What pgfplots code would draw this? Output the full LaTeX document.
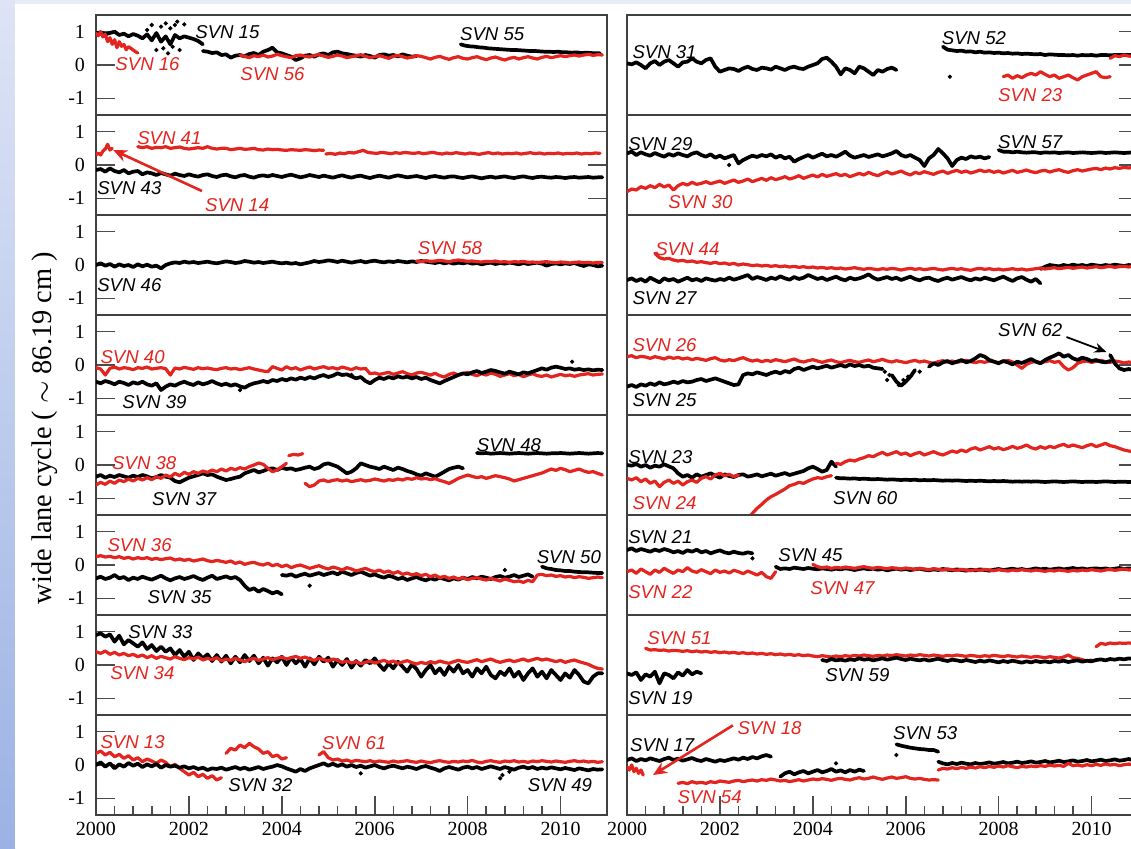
\documentclass[border=0pt]{standalone}
\usepackage{pgfplots}
\pgfplotsset{compat=1.18}
\usetikzlibrary{arrows.meta}
\usepackage{fontspec}
\setmainfont{Liberation Serif}
\newfontfamily\svnfont{Liberation Sans}
\definecolor{rd}{RGB}{228,36,30}
\definecolor{stripT}{RGB}{222,228,246}
\definecolor{stripB}{RGB}{155,178,228}
\definecolor{topband}{RGB}{232,236,248}
\pgfplotsset{
  ts/.style 2 args={/pgfplots/table/header=false,/pgfplots/table/row sep=\\,/pgfplots/table/y index=0,/pgfplots/table/x expr={#1+\coordindex*#2}},
  B/.style={black,line width=1.85pt,line join=round,line cap=round,mark=none},
  R/.style={rd,line width=1.6pt,line join=round,line cap=round,mark=none},
  D/.style={only marks,mark=*,mark size=0.85pt,black},
  panel/.style={scale only axis,width=255.5pt,height=50pt,xmin=2000,xmax=2011,ymin=-1.5,ymax=1.5,
    axis line style={line width=0.9pt,draw=black!75},
    ytick={-1,0,1},yticklabels={-1,0,1},
    tick align=inside,major tick length=9.5pt,minor tick length=4.5pt,
    tick style={line width=0.8pt,black!70},
    xtick=\empty,
    ticklabel style={font=\fontsize{10}{12}\selectfont},
    yticklabel style={xshift=-2pt},
    clip=true},
  lpanel/.style={panel,ytick pos=left},
  rpanel/.style={panel,ytick pos=right,yticklabels={,,}},
  bot/.style={xtick={2000,2002,2004,2006,2008,2010},xticklabels={2000,2002,2004,2006,2008,2010},minor x tick num=4,xtick pos=left},
}
\tikzset{lbl/.style={font=\svnfont\itshape\fontsize{9.3}{10}\selectfont,inner sep=0pt,anchor=west}}
\begin{document}
\begin{tikzpicture}
\path[use as bounding box] (0,0) rectangle (565.5pt,-424pt);
\clip (0,0) rectangle (565.5pt,-424pt);
\fill[topband] (0,0) rectangle (565.5pt,-424pt);
\shade[top color=stripT,bottom color=stripB] (0,0) rectangle (7.5pt,-424pt);
\fill[white] (7.5pt,-2pt) rectangle (565.5pt,-424pt);
\node[rotate=90,font=\fontsize{14.2}{15}\selectfont] at (22.5pt,-214pt) {wide lane cycle ( $\sim$ 86.19 cm )};

% ---------- Row 1 left
\begin{axis}[lpanel,at={(48pt,-7.5pt)},anchor=north west]
\addplot[B] table[ts={2000}{0.1}] {0.95\\0.98\\0.92\\0.96\\1.00\\0.90\\0.94\\0.86\\0.93\\0.88\\0.80\\0.92\\0.74\\0.96\\0.70\\0.86\\0.62\\0.90\\0.80\\0.86\\0.82\\0.78\\0.72\\0.62\\};
\addplot[D] coordinates {(2001.1,1.05)(2001.2,1.2)(2001.4,1.15)(2001.5,1.25)(2001.6,1.1)(2001.7,1.2)(2001.75,1.3)(2001.9,1.22)(2001.3,0.45)(2001.45,0.5)(2001.55,0.35)(2001.65,0.55)(2001.8,0.45)};
\addplot[B] table[ts={2002.3}{0.1}] {0.42\\0.40\\0.36\\0.38\\0.30\\0.32\\0.22\\0.28\\0.30\\0.26\\0.33\\0.36\\0.30\\0.40\\0.45\\0.52\\0.38\\0.35\\0.30\\0.25\\0.15\\0.20\\0.28\\0.30\\0.25\\0.32\\0.35\\0.30\\0.38\\0.40\\0.35\\0.33\\0.30\\0.28\\0.25\\0.30\\0.27\\0.22\\0.30\\0.32\\0.28\\0.30\\0.26\\0.32\\0.28\\0.25\\0.27\\};
\addplot[B] table[ts={2007.85}{0.1}] {0.62\\0.58\\0.56\\0.55\\0.53\\0.52\\0.50\\0.49\\0.48\\0.47\\0.46\\0.45\\0.45\\0.44\\0.43\\0.42\\0.42\\0.41\\0.40\\0.40\\0.39\\0.40\\0.38\\0.38\\0.37\\0.38\\0.36\\0.37\\0.36\\0.35\\0.35\\};
\addplot[R] table[ts={2000}{0.05}] {0.95\\0.88\\1.00\\0.84\\0.92\\0.70\\0.82\\0.62\\0.76\\0.52\\0.70\\0.56\\0.62\\0.46\\0.55\\0.50\\0.45\\0.40\\0.36\\};
\addplot[R] table[ts={2003.1}{0.1}] {0.30\\0.26\\0.22\\0.28\\0.25\\0.30\\0.24\\0.27\\0.32\\0.28\\0.25\\0.22\\0.28\\0.30\\0.26\\0.24\\0.29\\0.31\\0.27\\0.23\\0.26\\0.30\\0.27\\0.22\\0.25\\0.28\\0.31\\0.26\\0.22\\0.25\\0.28\\0.24\\0.20\\0.26\\0.29\\0.25\\0.21\\0.24\\0.28\\0.26\\0.22\\0.18\\0.23\\0.26\\0.21\\0.17\\0.22\\0.25\\0.20\\0.18\\0.22\\0.25\\0.20\\0.16\\0.21\\0.24\\0.19\\0.15\\0.20\\0.23\\0.18\\0.22\\0.25\\0.21\\0.18\\0.23\\0.26\\0.22\\0.25\\0.28\\0.25\\0.28\\0.30\\0.27\\0.30\\0.32\\0.29\\0.31\\0.30\\};
\node[lbl] at (axis cs:2002.13,0.98) {SVN 15};
\node[lbl,rd] at (axis cs:2000.41,0.03) {SVN 16};
\node[lbl,rd] at (axis cs:2003.1,-0.27) {SVN 56};
\node[lbl] at (axis cs:2007.83,0.93) {SVN 55};
\end{axis}

% ---------- Row 1 right
\begin{axis}[rpanel,at={(313.5pt,-7.5pt)},anchor=north west]
\addplot[B] table[ts={2000}{0.1}] {0.05\\0.02\\0.08\\0.00\\-0.10\\0.05\\0.12\\0.00\\0.10\\0.15\\0.05\\-0.05\\0.08\\0.10\\0.20\\0.10\\0.05\\0.15\\0.20\\-0.05\\-0.20\\-0.15\\-0.10\\-0.12\\-0.18\\-0.10\\-0.05\\-0.12\\-0.15\\-0.08\\-0.10\\-0.14\\-0.05\\-0.10\\-0.15\\-0.08\\-0.05\\-0.10\\-0.12\\-0.05\\0.00\\0.05\\0.18\\0.22\\0.10\\-0.05\\-0.28\\-0.10\\-0.15\\-0.25\\-0.05\\-0.10\\-0.20\\-0.30\\-0.15\\-0.20\\-0.12\\-0.08\\-0.15\\};
\addplot[B] table[ts={2006.8}{0.1}] {0.55\\0.46\\0.44\\0.42\\0.43\\0.40\\0.41\\0.38\\0.40\\0.37\\0.38\\0.36\\0.37\\0.35\\0.36\\0.34\\0.35\\0.33\\0.34\\0.33\\0.32\\0.33\\0.30\\0.32\\0.31\\0.30\\0.30\\0.29\\0.30\\0.28\\0.30\\0.29\\0.30\\0.28\\0.30\\0.30\\0.29\\0.30\\0.30\\0.30\\0.30\\0.30\\0.30\\};
\addplot[D] coordinates {(2006.95,-0.35)};
\addplot[R] table[ts={2008.1}{0.1}] {-0.35\\-0.30\\-0.40\\-0.32\\-0.38\\-0.30\\-0.25\\-0.30\\-0.20\\-0.28\\-0.35\\-0.30\\-0.40\\-0.35\\-0.30\\-0.38\\-0.45\\-0.35\\-0.30\\-0.25\\-0.20\\-0.35\\-0.38\\-0.35\\};
\addplot[R] table[ts={2010.4}{0.1}] {0.20\\0.28\\0.25\\0.30\\0.27\\0.25\\0.30\\};
\node[lbl] at (axis cs:2000.11,0.39) {SVN 31};
\node[lbl] at (axis cs:2006.77,0.8) {SVN 52};
\node[lbl,rd] at (axis cs:2007.98,-0.9) {SVN 23};
\end{axis}

% ---------- Row 2 left
\begin{axis}[panel,ytick pos=both,yticklabel pos=left,at={(48pt,-57.5pt)},anchor=north west]
\addplot[B] table[ts={2000}{0.1}] {-0.15\\-0.12\\-0.20\\-0.10\\-0.18\\-0.22\\-0.15\\-0.25\\-0.20\\-0.18\\-0.28\\-0.22\\-0.25\\-0.30\\-0.24\\-0.28\\-0.32\\-0.26\\-0.30\\-0.33\\-0.28\\-0.32\\-0.35\\-0.30\\-0.28\\-0.33\\-0.36\\-0.31\\-0.29\\-0.34\\-0.37\\-0.32\\-0.30\\-0.35\\-0.38\\-0.33\\-0.31\\-0.34\\-0.30\\-0.33\\-0.36\\-0.32\\-0.29\\-0.33\\-0.37\\-0.34\\-0.30\\-0.33\\-0.36\\-0.32\\-0.35\\-0.38\\-0.34\\-0.31\\-0.35\\-0.38\\-0.34\\-0.32\\-0.36\\-0.39\\-0.35\\-0.32\\-0.35\\-0.38\\-0.34\\-0.31\\-0.34\\-0.37\\-0.35\\-0.33\\-0.36\\-0.39\\-0.35\\-0.33\\-0.36\\-0.38\\-0.35\\-0.34\\-0.37\\-0.39\\-0.36\\-0.34\\-0.37\\-0.40\\-0.37\\-0.35\\-0.38\\-0.36\\-0.34\\-0.37\\-0.39\\-0.36\\-0.34\\-0.37\\-0.39\\-0.36\\-0.35\\-0.37\\-0.38\\-0.36\\-0.37\\-0.39\\-0.37\\-0.36\\-0.38\\-0.37\\-0.36\\-0.38\\-0.37\\-0.37\\};
\addplot[R] table[ts={2000}{0.05}] {0.30\\0.36\\0.30\\0.42\\0.48\\0.62\\0.45\\0.50\\};
\addplot[R] table[ts={2000.9}{0.1}] {0.55\\0.52\\0.55\\0.50\\0.53\\0.52\\0.55\\0.50\\0.52\\0.54\\0.50\\0.48\\0.50\\0.52\\0.50\\0.55\\0.50\\0.48\\0.50\\0.50\\0.46\\0.48\\0.50\\0.47\\0.48\\0.50\\0.46\\0.45\\0.48\\0.46\\0.47\\0.45\\0.44\\0.46\\0.45\\0.44\\0.46\\0.45\\0.43\\0.45\\0.44\\};
\addplot[R] table[ts={2004.95}{0.1}] {0.33\\0.35\\0.32\\0.36\\0.34\\0.38\\0.36\\0.40\\0.44\\0.38\\0.36\\0.35\\0.38\\0.36\\0.34\\0.37\\0.35\\0.38\\0.36\\0.35\\0.37\\0.34\\0.36\\0.38\\0.35\\0.33\\0.36\\0.34\\0.37\\0.35\\0.33\\0.36\\0.34\\0.32\\0.35\\0.37\\0.34\\0.36\\0.33\\0.35\\0.34\\0.36\\0.33\\0.35\\0.37\\0.34\\0.36\\0.33\\0.35\\0.34\\0.36\\0.33\\0.35\\0.34\\0.36\\0.33\\0.35\\0.34\\0.36\\0.35\\};
\node[lbl,rd] at (axis cs:2000.88,0.81) {SVN 41};
\node[lbl] at (axis cs:2000.02,-0.69) {SVN 43};
\node[lbl,rd] at (axis cs:2002.34,-1.19) {SVN 14};
\draw[rd,line width=1.3pt,-{Stealth[length=7pt,width=6pt]}] (axis cs:2002.28,-0.78) -- (axis cs:2000.37,0.45);
\end{axis}

% ---------- Row 2 right
\begin{axis}[rpanel,at={(313.5pt,-57.5pt)},anchor=north west]
\addplot[B] table[ts={2000}{0.1}] {0.35\\0.40\\0.30\\0.38\\0.32\\0.28\\0.36\\0.30\\0.25\\0.33\\0.28\\0.35\\0.30\\0.26\\0.34\\0.38\\0.30\\0.25\\0.32\\0.22\\0.28\\0.20\\0.25\\0.30\\0.05\\0.15\\0.22\\0.28\\0.24\\0.30\\0.26\\0.32\\0.22\\0.28\\0.20\\0.25\\0.10\\0.18\\0.24\\0.30\\0.22\\0.28\\0.34\\0.26\\0.30\\0.25\\0.32\\0.40\\0.28\\0.22\\0.26\\0.30\\0.24\\0.28\\0.32\\0.26\\0.30\\0.35\\0.42\\0.30\\0.25\\0.30\\0.22\\0.15\\-0.03\\0.20\\0.30\\0.48\\0.35\\0.20\\-0.03\\0.15\\0.22\\0.18\\0.26\\0.22\\0.25\\0.20\\0.24\\};
\addplot[D] coordinates {(2002.2,0.0)};
\addplot[B] table[ts={2008.0}{0.1}] {0.45\\0.40\\0.40\\0.38\\0.40\\0.38\\0.37\\0.38\\0.38\\0.36\\0.38\\0.37\\0.38\\0.36\\0.37\\0.38\\0.36\\0.37\\0.38\\0.37\\0.36\\0.37\\0.38\\0.36\\0.37\\0.38\\0.37\\0.36\\0.37\\0.38\\0.37\\};
\addplot[R] table[ts={2000}{0.1}] {-0.80\\-0.72\\-0.75\\-0.65\\-0.70\\-0.62\\-0.68\\-0.58\\-0.66\\-0.60\\-0.75\\-0.62\\-0.55\\-0.60\\-0.52\\-0.58\\-0.55\\-0.50\\-0.56\\-0.52\\-0.48\\-0.55\\-0.50\\-0.45\\-0.52\\-0.48\\-0.42\\-0.50\\-0.45\\-0.40\\-0.46\\-0.38\\-0.44\\-0.40\\-0.35\\-0.42\\-0.38\\-0.32\\-0.40\\-0.35\\-0.30\\-0.36\\-0.28\\-0.34\\-0.30\\-0.26\\-0.32\\-0.28\\-0.35\\-0.30\\-0.25\\-0.30\\-0.22\\-0.28\\-0.32\\-0.25\\-0.20\\-0.27\\-0.23\\-0.18\\-0.25\\-0.30\\-0.22\\-0.26\\-0.20\\-0.24\\-0.28\\-0.22\\-0.18\\-0.25\\-0.20\\-0.16\\-0.22\\-0.18\\-0.24\\-0.20\\-0.15\\-0.20\\-0.17\\-0.22\\-0.18\\-0.24\\-0.20\\-0.16\\-0.22\\-0.19\\-0.15\\-0.20\\-0.23\\-0.18\\-0.16\\-0.21\\-0.17\\-0.14\\-0.19\\-0.22\\-0.17\\-0.14\\-0.18\\-0.15\\-0.12\\-0.10\\-0.14\\-0.09\\-0.12\\-0.08\\-0.10\\-0.07\\-0.09\\-0.06\\-0.06\\};
\node[lbl] at (axis cs:2000.02,0.63) {SVN 29};
\node[lbl] at (axis cs:2007.98,0.69) {SVN 57};
\node[lbl,rd] at (axis cs:2000.88,-1.1) {SVN 30};
\end{axis}

% ---------- Row 3 left
\begin{axis}[lpanel,at={(48pt,-107.5pt)},anchor=north west]
\addplot[B] table[ts={2000}{0.1}] {0.00\\0.05\\-0.02\\0.03\\-0.05\\0.02\\-0.03\\0.00\\-0.06\\0.02\\-0.04\\0.01\\-0.05\\-0.02\\-0.10\\0.00\\0.05\\0.08\\0.06\\0.10\\0.07\\0.09\\0.06\\0.08\\0.10\\0.07\\0.05\\0.08\\0.11\\0.09\\0.06\\0.08\\0.12\\0.10\\0.07\\0.09\\0.06\\0.08\\0.10\\0.07\\0.05\\0.07\\0.04\\0.06\\0.02\\0.05\\0.08\\0.12\\0.09\\0.11\\0.14\\0.12\\0.09\\0.13\\0.10\\0.07\\0.10\\0.12\\0.08\\0.11\\0.13\\0.10\\0.08\\0.11\\0.09\\0.12\\0.10\\0.08\\0.11\\0.09\\0.12\\0.10\\0.08\\0.06\\0.09\\0.05\\0.08\\0.04\\0.07\\0.05\\0.08\\0.04\\0.06\\0.02\\0.05\\0.07\\0.03\\0.06\\0.04\\0.07\\0.05\\0.02\\0.06\\0.03\\0.05\\0.07\\0.04\\-0.02\\0.03\\0.05\\0.02\\0.05\\0.03\\0.06\\0.01\\-0.03\\0.02\\0.00\\-0.04\\-0.02\\};
\addplot[R] table[ts={2006.9}{0.1}] {0.12\\0.10\\0.13\\0.11\\0.12\\0.14\\0.12\\0.10\\0.13\\0.15\\0.13\\0.11\\0.12\\0.10\\0.09\\0.11\\0.10\\0.12\\0.09\\0.10\\0.08\\0.10\\0.09\\0.11\\0.08\\0.09\\0.07\\0.09\\0.10\\0.08\\0.07\\0.09\\0.08\\0.06\\0.08\\0.09\\0.07\\0.08\\0.06\\0.08\\0.07\\};
\node[lbl] at (axis cs:2000.02,-0.6) {SVN 46};
\node[lbl,rd] at (axis cs:2006.92,0.5) {SVN 58};
\end{axis}

% ---------- Row 3 right
\begin{axis}[rpanel,at={(313.5pt,-107.5pt)},anchor=north west]
\addplot[B] table[ts={2000}{0.1}] {-0.45\\-0.40\\-0.48\\-0.42\\-0.50\\-0.38\\-0.45\\-0.52\\-0.40\\-0.46\\-0.42\\-0.50\\-0.44\\-0.38\\-0.46\\-0.42\\-0.48\\-0.40\\-0.44\\-0.47\\-0.42\\-0.45\\-0.38\\-0.44\\-0.40\\-0.35\\-0.30\\-0.42\\-0.36\\-0.40\\-0.45\\-0.38\\-0.42\\-0.34\\-0.40\\-0.44\\-0.36\\-0.42\\-0.38\\-0.30\\-0.36\\-0.42\\-0.38\\-0.45\\-0.40\\-0.35\\-0.42\\-0.46\\-0.38\\-0.43\\-0.40\\-0.35\\-0.28\\-0.38\\-0.44\\-0.40\\-0.36\\-0.42\\-0.38\\-0.45\\-0.40\\-0.35\\-0.42\\-0.46\\-0.40\\-0.38\\-0.44\\-0.48\\-0.42\\-0.38\\-0.44\\-0.40\\-0.36\\-0.42\\-0.46\\-0.40\\-0.44\\-0.38\\-0.42\\-0.46\\-0.40\\-0.35\\-0.42\\-0.48\\-0.40\\-0.36\\-0.44\\-0.50\\-0.42\\-0.55\\};
\addplot[B] table[ts={2008.9}{0.1}] {-0.12\\-0.05\\0.00\\-0.02\\-0.04\\0.00\\-0.03\\0.01\\-0.02\\0.00\\-0.03\\0.01\\-0.01\\-0.03\\0.00\\-0.02\\0.01\\-0.01\\-0.03\\0.00\\-0.02\\-0.01\\};
\addplot[R] table[ts={2000.6}{0.1}] {0.35\\0.22\\0.18\\0.20\\0.15\\0.12\\0.14\\0.10\\0.12\\0.08\\0.10\\0.07\\0.05\\0.08\\0.04\\0.06\\0.02\\0.05\\0.00\\0.03\\0.01\\-0.02\\0.00\\-0.03\\-0.01\\-0.04\\-0.02\\-0.05\\-0.03\\-0.06\\-0.04\\-0.07\\-0.05\\-0.08\\-0.06\\-0.09\\-0.07\\-0.10\\-0.08\\-0.11\\-0.09\\-0.12\\-0.10\\-0.08\\-0.11\\-0.13\\-0.10\\-0.12\\-0.14\\-0.11\\-0.13\\-0.10\\-0.12\\-0.15\\-0.12\\-0.10\\-0.13\\-0.11\\-0.14\\-0.12\\-0.10\\-0.13\\-0.15\\-0.12\\-0.10\\-0.13\\-0.11\\-0.14\\-0.16\\-0.12\\-0.10\\-0.13\\-0.11\\-0.14\\-0.12\\-0.15\\-0.13\\-0.11\\-0.14\\-0.12\\-0.15\\-0.13\\-0.11\\-0.09\\-0.12\\-0.10\\-0.08\\-0.11\\-0.09\\-0.07\\-0.10\\-0.08\\-0.06\\-0.09\\-0.07\\-0.05\\-0.08\\-0.06\\-0.04\\-0.07\\-0.05\\-0.04\\-0.06\\-0.03\\-0.05\\};
\node[lbl,rd] at (axis cs:2000.6,0.48) {SVN 44};
\node[lbl] at (axis cs:2000.11,-0.99) {SVN 27};
\end{axis}

% ---------- Row 4 left
\begin{axis}[lpanel,at={(48pt,-157.5pt)},anchor=north west]
\addplot[R] table[ts={2000}{0.1}] {-0.08\\-0.12\\-0.30\\-0.10\\-0.06\\-0.12\\-0.08\\-0.10\\-0.14\\-0.08\\-0.10\\-0.06\\-0.12\\-0.10\\-0.08\\-0.11\\-0.30\\-0.09\\-0.12\\-0.07\\-0.10\\-0.13\\-0.08\\-0.11\\-0.09\\-0.12\\-0.14\\-0.10\\-0.08\\-0.12\\-0.10\\-0.14\\-0.11\\-0.08\\-0.12\\-0.15\\-0.18\\-0.20\\-0.05\\-0.10\\-0.15\\-0.05\\-0.12\\-0.08\\-0.15\\-0.10\\-0.06\\-0.12\\-0.08\\-0.05\\-0.10\\-0.08\\-0.12\\-0.06\\-0.10\\-0.14\\-0.08\\-0.12\\-0.10\\-0.26\\-0.24\\-0.28\\-0.25\\-0.22\\-0.28\\-0.24\\-0.20\\-0.26\\-0.30\\-0.24\\-0.22\\-0.26\\-0.30\\-0.25\\-0.32\\-0.36\\-0.28\\-0.24\\-0.30\\-0.26\\-0.22\\-0.28\\-0.32\\-0.26\\-0.30\\-0.24\\-0.28\\-0.34\\-0.30\\-0.26\\-0.32\\-0.28\\-0.35\\-0.30\\-0.26\\-0.32\\-0.34\\-0.30\\-0.36\\-0.32\\-0.28\\-0.32\\-0.30\\-0.34\\-0.30\\-0.28\\-0.26\\-0.30\\-0.28\\-0.27\\};
\addplot[B] table[ts={2000}{0.1}] {-0.50\\-0.55\\-0.48\\-0.52\\-0.58\\-0.50\\-0.54\\-0.60\\-0.52\\-0.56\\-0.50\\-0.58\\-0.62\\-0.55\\-0.75\\-0.65\\-0.58\\-0.62\\-0.55\\-0.50\\-0.56\\-0.60\\-0.52\\-0.58\\-0.54\\-0.48\\-0.55\\-0.60\\-0.56\\-0.62\\-0.58\\-0.64\\-0.68\\-0.60\\-0.55\\-0.52\\-0.48\\-0.52\\-0.45\\-0.48\\-0.42\\-0.46\\-0.40\\-0.44\\-0.38\\-0.42\\-0.36\\-0.40\\-0.34\\-0.30\\-0.36\\-0.32\\-0.25\\-0.30\\-0.28\\-0.34\\-0.40\\-0.36\\-0.48\\-0.55\\-0.45\\-0.38\\-0.42\\-0.36\\-0.40\\-0.34\\-0.38\\-0.35\\-0.40\\-0.36\\-0.42\\-0.38\\-0.45\\-0.50\\-0.55\\-0.48\\-0.42\\-0.36\\-0.30\\-0.25\\-0.28\\-0.22\\-0.18\\-0.24\\-0.20\\-0.15\\-0.18\\-0.22\\-0.26\\-0.20\\-0.24\\-0.28\\-0.22\\-0.25\\-0.20\\-0.15\\-0.10\\-0.14\\-0.08\\-0.05\\-0.08\\-0.12\\-0.10\\-0.14\\-0.12\\-0.15\\-0.13\\-0.16\\-0.14\\-0.15\\};
\addplot[D] coordinates {(2010.25,0.1)(2003.1,-0.75)(2005.5,-0.3)};
\node[lbl,rd] at (axis cs:2000.09,0.24) {SVN 40};
\node[lbl] at (axis cs:2000.56,-1.1) {SVN 39};
\end{axis}

% ---------- Row 4 right
\begin{axis}[rpanel,at={(313.5pt,-157.5pt)},anchor=north west]
\addplot[R] table[ts={2000}{0.1}] {0.25\\0.28\\0.22\\0.26\\0.24\\0.20\\0.25\\0.22\\0.18\\0.24\\0.20\\0.23\\0.18\\0.21\\0.16\\0.20\\0.17\\0.14\\0.19\\0.22\\0.15\\0.12\\0.16\\0.13\\0.18\\0.22\\0.16\\0.12\\0.15\\0.10\\0.14\\0.11\\0.16\\0.13\\0.10\\0.14\\0.18\\0.12\\0.09\\0.13\\0.16\\0.12\\0.08\\0.12\\0.15\\0.10\\0.07\\0.11\\0.14\\0.10\\0.08\\0.12\\0.15\\0.10\\0.13\\0.17\\0.12\\0.09\\0.13\\0.10\\0.07\\0.11\\0.14\\0.09\\0.12\\0.08\\0.05\\0.10\\0.13\\0.09\\0.12\\0.08\\0.11\\0.14\\0.10\\0.07\\0.11\\0.08\\0.12\\0.10\\0.07\\0.11\\0.14\\0.09\\0.00\\-0.10\\0.02\\0.08\\0.11\\0.07\\0.10\\0.13\\0.08\\0.11\\-0.05\\-0.15\\-0.08\\0.05\\0.10\\0.12\\0.08\\0.11\\0.14\\0.10\\0.08\\0.12\\0.10\\0.06\\0.09\\0.07\\0.08\\};
\addplot[B] table[ts={2000}{0.1}] {-0.65\\-0.60\\-0.66\\-0.58\\-0.62\\-0.55\\-0.60\\-0.52\\-0.58\\-0.55\\-0.50\\-0.54\\-0.48\\-0.52\\-0.50\\-0.45\\-0.42\\-0.48\\-0.44\\-0.40\\-0.45\\-0.50\\-0.55\\-0.60\\-0.58\\-0.30\\-0.25\\-0.28\\-0.22\\-0.26\\-0.30\\-0.24\\-0.20\\-0.25\\-0.18\\-0.22\\-0.12\\-0.08\\-0.15\\-0.10\\-0.05\\-0.10\\-0.06\\-0.02\\-0.08\\-0.04\\0.00\\-0.05\\0.02\\-0.03\\0.00\\-0.05\\-0.02\\-0.08\\-0.10\\-0.12\\};
\addplot[B] table[ts={2005.7}{0.1}] {-0.30\\-0.50\\-0.62\\-0.50\\-0.35\\-0.15\\};
\addplot[D] coordinates {(2005.55,-0.2)(2005.6,-0.45)(2005.65,-0.3)(2005.85,-0.6)(2005.95,-0.45)(2006.05,-0.35)(2006.3,-0.2)};
\addplot[B] table[ts={2006.5}{0.1}] {-0.05\\0.05\\0.00\\0.08\\0.12\\0.05\\0.10\\0.15\\0.08\\0.12\\0.20\\0.30\\0.25\\0.15\\0.10\\0.05\\0.12\\0.08\\0.02\\0.10\\0.06\\0.12\\0.18\\0.10\\0.05\\0.15\\0.22\\0.28\\0.35\\0.25\\0.30\\0.20\\0.15\\0.22\\0.18\\0.12\\0.15\\0.10\\0.08\\0.12\\};
\addplot[B] table[ts={2010.4}{0.1}] {0.30\\0.05\\-0.10\\-0.15\\-0.12\\-0.15\\-0.15\\};
\node[lbl,rd] at (axis cs:2000.11,0.6) {SVN 26};
\node[lbl] at (axis cs:2000.11,-1.05) {SVN 25};
\node[lbl] at (axis cs:2007.98,1.04) {SVN 62};
\draw[black,line width=0.9pt,-{Stealth[length=6pt,width=5pt]}] (axis cs:2009.46,0.84) -- (axis cs:2010.32,0.39);
\end{axis}

% ---------- Row 5 left
\begin{axis}[lpanel,at={(48pt,-207.5pt)},anchor=north west]
\addplot[B] table[ts={2000}{0.1}] {-0.35\\-0.30\\-0.38\\-0.32\\-0.36\\-0.30\\-0.34\\-0.38\\-0.32\\-0.36\\-0.30\\-0.34\\-0.40\\-0.36\\-0.30\\-0.35\\-0.38\\-0.48\\-0.52\\-0.45\\-0.38\\-0.34\\-0.30\\-0.25\\-0.30\\-0.28\\-0.35\\-0.40\\-0.45\\-0.42\\-0.38\\-0.35\\-0.25\\-0.20\\-0.15\\-0.22\\-0.18\\-0.12\\-0.10\\-0.15\\-0.08\\-0.12\\-0.10\\-0.15\\-0.12\\-0.08\\-0.05\\-0.12\\-0.08\\0.02\\0.05\\0.00\\-0.05\\-0.15\\-0.25\\-0.20\\-0.10\\0.05\\0.00\\-0.05\\-0.08\\-0.12\\-0.05\\-0.10\\-0.15\\-0.08\\-0.12\\-0.18\\-0.22\\-0.28\\-0.32\\-0.25\\-0.30\\-0.35\\-0.28\\-0.20\\-0.12\\-0.08\\-0.05\\-0.10\\};
\addplot[B] table[ts={2008.2}{0.1}] {0.36\\0.35\\0.36\\0.34\\0.35\\0.36\\0.35\\0.34\\0.35\\0.36\\0.35\\0.34\\0.35\\0.36\\0.35\\0.34\\0.35\\0.35\\0.36\\0.35\\0.34\\0.35\\0.36\\0.35\\0.34\\0.35\\0.36\\0.35\\};
\addplot[R] table[ts={2000}{0.1}] {-0.60\\-0.52\\-0.58\\-0.48\\-0.55\\-0.45\\-0.50\\-0.42\\-0.48\\-0.40\\-0.45\\-0.38\\-0.44\\-0.35\\-0.40\\-0.30\\-0.36\\-0.25\\-0.32\\-0.22\\-0.28\\-0.20\\-0.25\\-0.18\\-0.22\\-0.15\\-0.20\\-0.12\\-0.18\\-0.10\\-0.14\\-0.08\\-0.12\\-0.05\\0.00\\0.06\\0.02\\-0.10\\-0.20\\-0.15\\-0.05\\0.05\\};
\addplot[R] table[ts={2004.15}{0.1}] {0.28\\0.32\\0.30\\0.34\\};
\addplot[R] table[ts={2004.5}{0.1}] {-0.55\\-0.65\\-0.60\\-0.48\\-0.45\\-0.50\\-0.46\\-0.44\\-0.48\\-0.45\\-0.50\\-0.47\\-0.44\\-0.48\\-0.46\\-0.42\\-0.45\\-0.48\\-0.44\\-0.46\\-0.42\\-0.45\\-0.40\\-0.43\\-0.38\\-0.42\\-0.40\\-0.44\\-0.41\\-0.46\\-0.50\\-0.55\\-0.48\\-0.40\\-0.35\\-0.30\\-0.34\\-0.38\\-0.35\\-0.40\\-0.36\\-0.32\\-0.35\\-0.38\\-0.42\\-0.48\\-0.44\\-0.40\\-0.36\\-0.32\\-0.28\\-0.24\\-0.18\\-0.12\\-0.16\\-0.10\\-0.14\\-0.20\\-0.16\\-0.12\\-0.18\\-0.22\\-0.20\\-0.25\\-0.30\\};
\node[lbl,rd] at (axis cs:2000.34,0.06) {SVN 38};
\node[lbl] at (axis cs:2001.2,-1.01) {SVN 37};
\node[lbl] at (axis cs:2008.19,0.6) {SVN 48};
\end{axis}

% ---------- Row 5 right
\begin{axis}[rpanel,at={(313.5pt,-207.5pt)},anchor=north west]
\addplot[B] table[ts={2000}{0.1}] {0.00\\-0.02\\0.03\\-0.05\\0.00\\-0.08\\-0.02\\-0.05\\0.02\\-0.04\\-0.10\\-0.25\\-0.35\\-0.30\\-0.38\\-0.28\\-0.35\\-0.30\\-0.25\\-0.32\\-0.38\\-0.28\\-0.33\\-0.36\\-0.30\\-0.28\\-0.35\\-0.32\\-0.28\\-0.34\\-0.30\\-0.26\\-0.32\\-0.28\\-0.24\\-0.30\\-0.26\\-0.22\\-0.18\\-0.10\\-0.05\\-0.12\\-0.20\\-0.15\\0.10\\-0.05\\};
\addplot[B] table[ts={2004.5}{0.1}] {-0.38\\-0.40\\-0.40\\-0.41\\-0.40\\-0.42\\-0.41\\-0.42\\-0.43\\-0.42\\-0.43\\-0.44\\-0.43\\-0.44\\-0.45\\-0.44\\-0.45\\-0.44\\-0.46\\-0.45\\-0.46\\-0.45\\-0.46\\-0.47\\-0.46\\-0.47\\-0.46\\-0.47\\-0.48\\-0.47\\-0.48\\-0.47\\-0.48\\-0.49\\-0.48\\-0.49\\-0.48\\-0.49\\-0.50\\-0.49\\-0.50\\-0.49\\-0.50\\-0.49\\-0.50\\-0.51\\-0.50\\-0.49\\-0.50\\-0.51\\-0.50\\-0.49\\-0.50\\-0.51\\-0.50\\-0.50\\-0.51\\-0.50\\-0.49\\-0.50\\-0.51\\-0.50\\-0.50\\-0.51\\-0.50\\-0.50\\};
\addplot[R] table[ts={2000}{0.1}] {-0.40\\-0.45\\-0.38\\-0.50\\-0.42\\-0.55\\-0.48\\-0.65\\-0.52\\-0.45\\-0.55\\-0.48\\-0.60\\-0.50\\-0.45\\-0.52\\-0.40\\-0.35\\-0.42\\-0.30\\-0.25\\-0.32\\-0.28\\-0.35\\-0.30\\};
\addplot[R] table[ts={2002.6}{0.1}] {-1.60\\-1.45\\-1.30\\-1.18\\-1.05\\-0.95\\-0.88\\-0.80\\-0.72\\-0.62\\-0.58\\-0.52\\-0.55\\-0.48\\-0.42\\-0.38\\-0.40\\-0.35\\-0.32\\};
\addplot[R] table[ts={2004.5}{0.1}] {0.05\\0.02\\0.10\\0.15\\0.12\\0.18\\0.22\\0.28\\0.25\\0.32\\0.38\\0.30\\0.35\\0.40\\0.32\\0.36\\0.28\\0.34\\0.38\\0.30\\0.35\\0.40\\0.34\\0.30\\0.36\\0.42\\0.38\\0.45\\0.40\\0.48\\0.52\\0.45\\0.50\\0.55\\0.48\\0.52\\0.46\\0.50\\0.56\\0.50\\0.54\\0.60\\0.52\\0.48\\0.55\\0.50\\0.56\\0.52\\0.58\\0.62\\0.55\\0.60\\0.56\\0.52\\0.58\\0.62\\0.55\\0.60\\0.65\\0.58\\0.55\\0.50\\0.45\\0.42\\0.40\\0.40\\};
\node[lbl] at (axis cs:2000.02,0.24) {SVN 23};
\node[lbl,rd] at (axis cs:2000.11,-1.13) {SVN 24};
\node[lbl] at (axis cs:2004.43,-0.99) {SVN 60};
\end{axis}

% ---------- Row 6 left
\begin{axis}[lpanel,at={(48pt,-257.5pt)},anchor=north west]
\addplot[B] table[ts={2000}{0.1}] {-0.40\\-0.35\\-0.42\\-0.38\\-0.30\\-0.40\\-0.36\\-0.45\\-0.38\\-0.42\\-0.35\\-0.40\\-0.44\\-0.38\\-0.32\\-0.40\\-0.46\\-0.40\\-0.36\\-0.42\\-0.38\\-0.33\\-0.40\\-0.45\\-0.38\\-0.32\\-0.42\\-0.38\\-0.34\\-0.40\\-0.36\\-0.45\\-0.62\\-0.75\\-0.70\\-0.80\\-0.72\\-0.78\\-0.85\\-0.80\\-0.88\\};
\addplot[B] table[ts={2004.0}{0.1}] {-0.30\\-0.32\\-0.28\\-0.35\\-0.30\\-0.26\\-0.32\\-0.28\\-0.24\\-0.30\\-0.26\\-0.22\\-0.28\\-0.20\\-0.25\\-0.30\\-0.24\\-0.20\\-0.26\\-0.32\\-0.28\\-0.34\\-0.38\\-0.32\\-0.36\\-0.42\\-0.38\\-0.45\\-0.40\\-0.36\\-0.42\\-0.46\\-0.40\\-0.44\\-0.38\\-0.42\\-0.46\\-0.40\\-0.44\\-0.38\\-0.42\\-0.36\\-0.40\\-0.35\\-0.38\\-0.42\\-0.36\\-0.33\\-0.38\\-0.35\\-0.30\\-0.36\\-0.32\\-0.28\\-0.35\\};
\addplot[B] table[ts={2009.6}{0.1}] {-0.05\\-0.10\\-0.12\\-0.15\\-0.16\\-0.18\\-0.18\\-0.20\\-0.21\\-0.22\\-0.22\\-0.23\\-0.24\\-0.24\\};
\addplot[D] coordinates {(2008.8,-0.15)(2004.6,-0.62)};
\addplot[R] table[ts={2000}{0.1}] {0.25\\0.28\\0.24\\0.26\\0.22\\0.25\\0.20\\0.23\\0.18\\0.22\\0.19\\0.22\\0.17\\0.20\\0.16\\0.19\\0.21\\0.15\\0.18\\0.14\\0.17\\0.12\\0.15\\0.18\\0.13\\0.10\\0.14\\0.11\\0.08\\0.12\\0.05\\0.09\\0.02\\0.06\\0.08\\0.03\\0.00\\0.05\\-0.02\\0.02\\-0.05\\0.00\\-0.08\\-0.03\\0.00\\-0.05\\-0.10\\-0.06\\-0.02\\-0.08\\-0.12\\-0.06\\-0.10\\-0.15\\-0.08\\-0.12\\-0.18\\-0.14\\-0.10\\-0.16\\-0.20\\-0.15\\-0.22\\-0.18\\-0.25\\-0.20\\-0.28\\-0.24\\-0.30\\-0.26\\-0.32\\-0.28\\-0.35\\-0.30\\-0.38\\-0.34\\-0.40\\-0.36\\-0.42\\-0.38\\-0.44\\-0.40\\-0.38\\-0.42\\-0.45\\-0.40\\-0.44\\-0.48\\-0.42\\-0.46\\-0.50\\-0.48\\-0.52\\-0.46\\-0.50\\-0.30\\-0.28\\-0.32\\-0.30\\-0.34\\-0.32\\-0.36\\-0.34\\-0.38\\-0.35\\-0.37\\-0.40\\-0.38\\-0.36\\-0.38\\};
\node[lbl,rd] at (axis cs:2000.24,0.6) {SVN 36};
\node[lbl] at (axis cs:2001.1,-0.96) {SVN 35};
\node[lbl] at (axis cs:2009.48,0.24) {SVN 50};
\end{axis}

% ---------- Row 6 right
\begin{axis}[rpanel,at={(313.5pt,-257.5pt)},anchor=north west]
\addplot[B] table[ts={2000}{0.1}] {0.45\\0.50\\0.42\\0.48\\0.44\\0.40\\0.46\\0.42\\0.48\\0.44\\0.38\\0.42\\0.36\\0.44\\0.40\\0.46\\0.38\\0.42\\0.35\\0.40\\0.44\\0.38\\0.35\\0.40\\0.36\\0.34\\0.38\\0.35\\};
\addplot[D] coordinates {(2002.7,0.2)};
\addplot[B] table[ts={2003.2}{0.1}] {-0.05\\-0.12\\-0.10\\-0.12\\-0.08\\-0.10\\-0.12\\-0.09\\-0.11\\-0.13\\-0.10\\-0.12\\-0.14\\-0.11\\-0.13\\-0.10\\-0.12\\-0.15\\-0.12\\-0.10\\-0.13\\-0.11\\-0.14\\-0.12\\-0.16\\-0.13\\-0.11\\-0.14\\-0.12\\-0.15\\-0.13\\-0.11\\-0.14\\-0.16\\-0.13\\-0.15\\-0.12\\-0.14\\-0.16\\-0.13\\-0.15\\-0.17\\-0.14\\-0.16\\-0.13\\-0.15\\-0.17\\-0.14\\-0.12\\-0.15\\-0.13\\-0.11\\-0.14\\-0.12\\-0.15\\-0.13\\-0.10\\-0.13\\-0.11\\-0.14\\-0.12\\-0.10\\-0.13\\-0.11\\-0.09\\-0.12\\-0.10\\-0.13\\-0.11\\-0.10\\-0.12\\-0.10\\-0.13\\-0.11\\-0.09\\-0.12\\-0.10\\-0.11\\-0.12\\};
\addplot[R] table[ts={2000}{0.1}] {-0.20\\-0.15\\-0.25\\-0.12\\-0.20\\-0.28\\-0.15\\-0.22\\-0.10\\-0.18\\-0.25\\-0.15\\-0.20\\-0.08\\-0.18\\-0.22\\-0.14\\-0.20\\-0.26\\-0.15\\-0.22\\-0.18\\-0.24\\-0.16\\-0.20\\-0.26\\-0.18\\-0.24\\-0.30\\-0.22\\-0.35\\-0.40\\-0.20\\};
\addplot[R] table[ts={2004.0}{0.1}] {0.02\\-0.05\\-0.08\\-0.06\\-0.10\\-0.07\\-0.09\\-0.06\\-0.08\\-0.10\\-0.07\\-0.05\\-0.08\\-0.10\\-0.07\\-0.09\\-0.11\\-0.08\\-0.10\\-0.12\\-0.09\\-0.11\\-0.13\\-0.10\\-0.12\\-0.14\\-0.11\\-0.13\\-0.15\\-0.12\\-0.14\\-0.16\\-0.13\\-0.15\\-0.17\\-0.14\\-0.16\\-0.13\\-0.15\\-0.17\\-0.14\\-0.16\\-0.18\\-0.15\\-0.17\\-0.14\\-0.16\\-0.18\\-0.15\\-0.17\\-0.19\\-0.16\\-0.18\\-0.15\\-0.17\\-0.19\\-0.16\\-0.18\\-0.15\\-0.17\\-0.14\\-0.16\\-0.18\\-0.15\\-0.13\\-0.16\\-0.14\\-0.12\\-0.15\\-0.13\\-0.12\\};
\node[lbl] at (axis cs:2000.02,0.84) {SVN 21};
\node[lbl] at (axis cs:2003.25,0.3) {SVN 45};
\node[lbl,rd] at (axis cs:2000.02,-0.81) {SVN 22};
\node[lbl,rd] at (axis cs:2003.94,-0.69) {SVN 47};
\end{axis}

% ---------- Row 7 left
\begin{axis}[lpanel,at={(48pt,-307.5pt)},anchor=north west]
\addplot[B] table[ts={2000}{0.1}] {0.90\\0.95\\0.85\\0.92\\0.70\\0.88\\0.62\\0.75\\0.65\\0.55\\0.68\\0.48\\0.60\\0.42\\0.55\\0.40\\0.50\\0.30\\0.45\\0.25\\0.40\\0.15\\0.35\\0.20\\0.32\\0.12\\0.30\\0.10\\0.28\\0.05\\0.25\\0.08\\0.30\\0.12\\0.28\\0.05\\0.22\\-0.02\\0.20\\0.08\\0.25\\0.00\\0.22\\0.05\\0.18\\-0.05\\0.20\\0.02\\0.25\\0.10\\0.22\\-0.05\\0.15\\0.00\\0.18\\-0.08\\0.12\\-0.02\\0.15\\0.05\\0.20\\0.00\\-0.15\\0.05\\-0.10\\0.10\\-0.05\\-0.20\\0.02\\-0.12\\-0.35\\-0.15\\0.00\\-0.25\\-0.10\\-0.30\\-0.05\\-0.20\\0.00\\-0.25\\-0.15\\-0.35\\-0.10\\-0.25\\-0.05\\-0.30\\-0.40\\-0.20\\-0.30\\-0.10\\-0.35\\-0.20\\-0.45\\-0.25\\-0.10\\-0.35\\-0.20\\-0.40\\-0.15\\-0.30\\-0.45\\-0.25\\-0.38\\-0.15\\-0.30\\-0.50\\-0.55\\-0.35\\-0.25\\-0.25\\};
\addplot[R] table[ts={2000}{0.1}] {0.40\\0.35\\0.42\\0.32\\0.38\\0.30\\0.35\\0.28\\0.32\\0.25\\0.30\\0.22\\0.28\\0.20\\0.26\\0.22\\0.18\\0.25\\0.20\\0.16\\0.22\\0.18\\0.24\\0.15\\0.20\\0.16\\0.22\\0.12\\0.18\\0.14\\0.20\\0.15\\0.10\\0.16\\0.20\\0.14\\0.18\\0.22\\0.16\\0.20\\0.24\\0.18\\0.22\\0.26\\0.20\\0.24\\0.18\\0.14\\0.20\\0.16\\0.12\\0.18\\0.14\\0.08\\0.12\\0.06\\0.10\\0.04\\0.08\\0.12\\0.06\\0.10\\0.14\\0.08\\0.12\\0.05\\0.09\\0.13\\0.07\\0.03\\0.08\\0.04\\0.10\\0.06\\0.12\\0.08\\0.05\\0.10\\0.14\\0.10\\0.08\\0.12\\0.16\\0.10\\0.14\\0.18\\0.12\\0.08\\0.12\\0.15\\0.10\\0.14\\0.18\\0.12\\0.16\\0.20\\0.15\\0.18\\0.14\\0.10\\0.14\\0.08\\0.12\\0.15\\0.10\\0.06\\0.02\\-0.05\\-0.10\\-0.12\\};
\node[lbl] at (axis cs:2000.69,0.99) {SVN 33};
\node[lbl,rd] at (axis cs:2000.3,-0.25) {SVN 34};
\end{axis}

% ---------- Row 7 right
\begin{axis}[rpanel,at={(313.5pt,-307.5pt)},anchor=north west]
\addplot[R] table[ts={2000.4}{0.1}] {0.50\\0.45\\0.46\\0.44\\0.45\\0.42\\0.44\\0.43\\0.41\\0.43\\0.40\\0.42\\0.39\\0.41\\0.38\\0.40\\0.37\\0.39\\0.36\\0.38\\0.35\\0.37\\0.34\\0.36\\0.33\\0.35\\0.32\\0.34\\0.31\\0.33\\0.30\\0.32\\0.29\\0.31\\0.28\\0.30\\0.27\\0.25\\0.28\\0.26\\0.24\\0.27\\0.25\\0.28\\0.26\\0.29\\0.27\\0.30\\0.28\\0.26\\0.29\\0.27\\0.30\\0.28\\0.31\\0.29\\0.27\\0.30\\0.28\\0.31\\0.29\\0.27\\0.30\\0.28\\0.26\\0.29\\0.27\\0.30\\0.28\\0.26\\0.29\\0.27\\0.25\\0.28\\0.26\\0.29\\0.27\\0.25\\0.28\\0.26\\0.24\\0.27\\0.25\\0.23\\0.26\\0.24\\0.22\\0.25\\0.23\\0.21\\0.24\\0.30\\0.22\\0.20\\0.16\\0.12\\0.15\\};
\addplot[R] table[ts={2010.1}{0.1}] {0.55\\0.65\\0.62\\0.66\\0.64\\0.66\\0.65\\0.66\\0.65\\0.66\\};
\addplot[B] table[ts={2004.2}{0.1}] {0.15\\0.12\\0.18\\0.14\\0.16\\0.13\\0.17\\0.15\\0.20\\0.16\\0.18\\0.14\\0.17\\0.20\\0.16\\0.19\\0.22\\0.18\\0.15\\0.19\\0.16\\0.14\\0.17\\0.13\\0.16\\0.19\\0.15\\0.12\\0.16\\0.14\\0.11\\0.15\\0.12\\0.09\\0.13\\0.10\\0.14\\0.11\\0.08\\0.12\\0.09\\0.13\\0.10\\0.07\\0.11\\0.08\\0.12\\0.09\\0.11\\0.08\\0.12\\0.10\\0.13\\0.09\\0.12\\0.14\\0.10\\0.13\\0.11\\0.15\\0.17\\0.14\\0.18\\0.16\\0.19\\0.17\\0.20\\0.18\\0.19\\};
\addplot[B] table[ts={2000}{0.1}] {-0.25\\-0.30\\-0.22\\-0.45\\-0.28\\-0.35\\-0.20\\-0.55\\-0.25\\-0.30\\-0.40\\-0.22\\-0.32\\-0.15\\-0.28\\-0.20\\-0.25\\};
\node[lbl,rd] at (axis cs:2000.43,0.81) {SVN 51};
\node[lbl] at (axis cs:2004.26,-0.3) {SVN 59};
\node[lbl] at (axis cs:2000.02,-0.99) {SVN 19};
\end{axis}

% ---------- Row 8 left
\begin{axis}[lpanel,bot,at={(48pt,-357.5pt)},anchor=north west]
\addplot[R] table[ts={2000}{0.1}] {0.35\\0.42\\0.30\\0.38\\0.25\\0.32\\0.20\\0.28\\0.15\\0.22\\0.10\\0.18\\0.12\\0.05\\0.15\\0.08\\-0.05\\0.02\\-0.10\\-0.20\\-0.30\\-0.22\\-0.35\\-0.28\\-0.40\\-0.32\\-0.45\\-0.38\\};
\addplot[R] table[ts={2002.8}{0.1}] {0.35\\0.50\\0.45\\0.60\\0.52\\0.65\\0.55\\0.48\\0.35\\0.40\\0.25\\0.30\\0.18\\0.22\\};
\addplot[R] table[ts={2004.8}{0.1}] {0.30\\0.40\\0.22\\0.15\\0.18\\0.12\\0.15\\0.10\\0.14\\0.12\\0.10\\0.13\\0.09\\0.12\\0.10\\0.08\\0.12\\0.09\\0.11\\0.13\\0.10\\0.08\\0.12\\0.09\\0.07\\0.11\\0.13\\0.10\\0.08\\0.11\\0.09\\0.12\\0.10\\0.14\\0.09\\0.07\\0.11\\0.13\\0.10\\0.08\\0.12\\0.10\\0.13\\0.09\\0.11\\0.08\\0.12\\0.10\\0.13\\0.11\\0.09\\0.12\\0.10\\0.08\\0.11\\0.13\\0.10\\0.12\\0.09\\0.11\\0.08\\0.10\\};
\addplot[B] table[ts={2000}{0.1}] {0.00\\0.08\\-0.05\\0.05\\-0.10\\0.02\\-0.05\\0.06\\-0.02\\0.04\\-0.06\\0.02\\-0.04\\0.03\\-0.08\\0.00\\-0.05\\-0.02\\-0.08\\-0.04\\-0.10\\-0.06\\-0.12\\-0.08\\-0.15\\-0.10\\-0.12\\-0.08\\-0.14\\-0.10\\-0.06\\-0.12\\-0.08\\-0.14\\-0.10\\-0.06\\-0.12\\-0.08\\-0.05\\0.00\\-0.04\\-0.10\\-0.15\\-0.20\\-0.12\\-0.18\\-0.10\\-0.05\\0.00\\0.05\\-0.02\\0.04\\-0.03\\0.02\\-0.05\\0.00\\-0.06\\-0.02\\-0.08\\-0.04\\0.00\\-0.06\\-0.10\\-0.05\\-0.02\\-0.06\\-0.10\\-0.05\\-0.08\\-0.12\\-0.06\\-0.03\\-0.08\\-0.12\\-0.18\\-0.10\\-0.06\\-0.10\\-0.14\\-0.08\\-0.05\\-0.10\\-0.06\\-0.12\\-0.08\\-0.04\\-0.08\\-0.12\\-0.06\\-0.10\\-0.14\\-0.08\\-0.05\\-0.10\\-0.06\\-0.12\\-0.08\\-0.11\\-0.07\\-0.10\\-0.13\\-0.09\\-0.12\\-0.15\\-0.10\\-0.13\\-0.16\\-0.12\\-0.14\\-0.13\\};
\addplot[D] coordinates {(2008.7,-0.4)(2008.75,-0.3)(2008.9,-0.2)(2005.7,-0.25)};
\node[lbl,rd] at (axis cs:2000.09,0.69) {SVN 13};
\node[lbl] at (axis cs:2002.84,-0.6) {SVN 32};
\node[lbl,rd] at (axis cs:2004.86,0.66) {SVN 61};
\node[lbl] at (axis cs:2009.29,-0.6) {SVN 49};
\end{axis}

% ---------- Row 8 right
\begin{axis}[rpanel,bot,at={(313.5pt,-357.5pt)},anchor=north west]
\addplot[B] table[ts={2000}{0.1}] {0.15\\0.20\\0.12\\0.18\\0.14\\0.20\\0.16\\0.12\\0.18\\0.22\\0.15\\0.19\\0.13\\0.17\\0.21\\0.15\\0.12\\0.18\\0.14\\0.10\\0.15\\0.12\\0.16\\0.20\\0.16\\0.22\\0.18\\0.24\\0.20\\0.26\\0.30\\0.25\\};
\addplot[B] table[ts={2003.3}{0.1}] {-0.35\\-0.25\\-0.20\\-0.28\\-0.22\\-0.18\\-0.25\\-0.20\\-0.15\\-0.22\\-0.18\\-0.12\\-0.20\\-0.16\\-0.22\\-0.15\\-0.20\\-0.14\\-0.18\\};
\addplot[D] coordinates {(2004.5,0.05)(2005.8,0.3)};
\addplot[B] table[ts={2005.8}{0.1}] {0.62\\0.58\\0.55\\0.52\\0.50\\0.48\\0.47\\0.45\\0.45\\0.40\\};
\addplot[B] table[ts={2006.7}{0.1}] {0.10\\0.05\\0.02\\0.06\\0.03\\0.07\\0.04\\0.02\\0.06\\0.03\\0.05\\0.08\\0.04\\0.06\\0.09\\0.05\\0.07\\0.10\\0.06\\0.08\\0.11\\0.07\\0.09\\0.12\\0.08\\0.10\\0.13\\0.09\\0.11\\0.14\\0.10\\0.12\\0.15\\0.11\\0.13\\0.16\\0.12\\0.14\\0.17\\0.13\\0.15\\0.18\\0.14\\0.12\\};
\addplot[R] table[ts={2000}{0.05}] {-0.05\\-0.15\\0.00\\-0.20\\-0.10\\-0.25\\-0.15\\-0.30\\};
\addplot[R] table[ts={2001.1}{0.1}] {-0.55\\-0.52\\-0.56\\-0.50\\-0.54\\-0.52\\-0.55\\-0.50\\-0.53\\-0.48\\-0.50\\-0.52\\-0.48\\-0.46\\-0.50\\-0.47\\-0.45\\-0.48\\-0.44\\-0.46\\-0.42\\-0.45\\-0.48\\-0.46\\-0.50\\-0.47\\-0.44\\-0.48\\-0.45\\-0.42\\-0.44\\-0.41\\-0.43\\-0.46\\-0.42\\-0.40\\-0.43\\-0.45\\-0.41\\-0.38\\-0.42\\-0.40\\-0.36\\-0.40\\-0.43\\-0.39\\-0.36\\-0.40\\-0.38\\-0.35\\-0.40\\-0.42\\-0.40\\-0.43\\-0.45\\-0.44\\-0.45\\};
\addplot[R] table[ts={2006.7}{0.1}] {-0.15\\-0.10\\-0.12\\-0.08\\-0.11\\-0.07\\-0.10\\-0.06\\-0.09\\-0.05\\-0.08\\-0.04\\-0.07\\-0.03\\-0.06\\-0.02\\-0.05\\-0.08\\-0.04\\-0.06\\-0.03\\-0.05\\-0.02\\-0.04\\0.00\\-0.03\\-0.01\\-0.04\\0.05\\-0.02\\0.00\\-0.03\\0.01\\-0.02\\0.02\\-0.01\\0.03\\0.00\\0.02\\-0.02\\0.01\\0.03\\0.00\\0.02\\};
\node[lbl] at (axis cs:2000.06,0.6) {SVN 17};
\node[lbl,rd] at (axis cs:2002.37,1.1) {SVN 18};
\node[lbl,rd] at (axis cs:2001.08,-0.96) {SVN 54};
\node[lbl] at (axis cs:2005.72,0.96) {SVN 53};
\draw[rd,line width=1.3pt,-{Stealth[length=7pt,width=6pt]}] (axis cs:2002.28,1.19) -- (axis cs:2000.56,-0.3);
\end{axis}
\end{tikzpicture}
\end{document}
